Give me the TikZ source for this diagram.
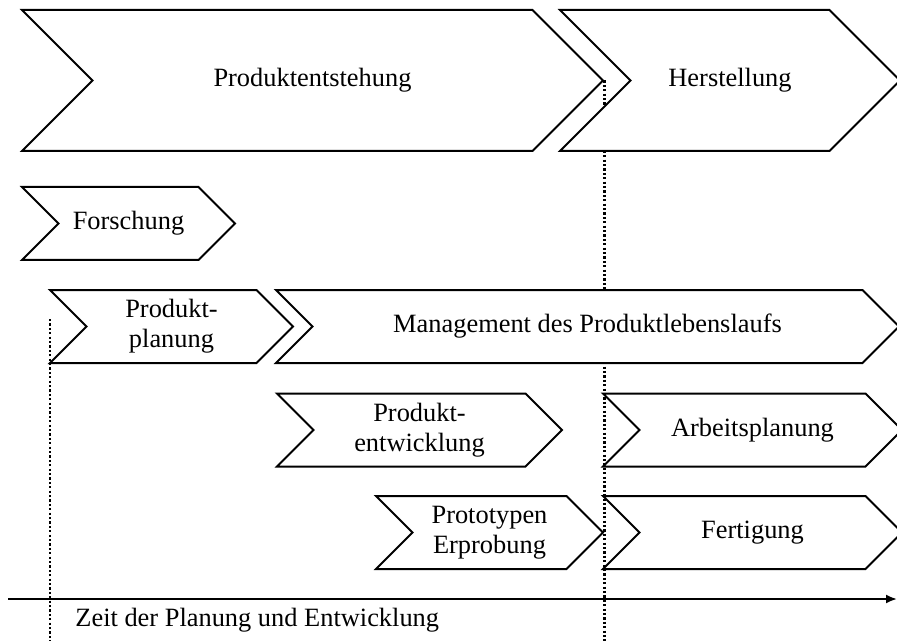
\documentclass[tikz,border=0pt]{standalone}
\usepackage{fontspec}
\setmainfont{Liberation Serif}
\usetikzlibrary{shapes.symbols,arrows.meta,backgrounds}

\begin{document}
\begin{tikzpicture}[x=0.5pt, y=-0.5pt,
  phase/.style = {signal, signal to=east, signal from=west, draw, fill=white, line width=1pt, inner sep=0pt, align=center, font=\fontsize{13.2}{15}\selectfont, minimum height=36.5pt},
  bigphase/.style = {phase, minimum height=70.5pt},
  timeline/.style = {line width=1pt, -{Latex[length=5.5pt,width=4.5pt]}},
  marker/.style = {line width=1.3pt, dash pattern=on 1.1pt off 1.1pt}]
  \useasboundingbox (0,0) rectangle (897,641);
  \node[bigphase, minimum width=290.5pt] (entstehung) at (312.5,80.5) {Produktentstehung};
  \node[bigphase, minimum width=170pt] (herstellung) at (730,80.5) {Herstellung};
  \node[phase, minimum width=106.5pt] (forschung) at (128.5,223.5) {Forschung};
  \node[phase, minimum width=121.5pt] (planung) at (171.5,326.5) {Produkt-\\planung};
  \node[phase, minimum width=311.5pt] (management) at (587.5,326.5) {Management des Produktlebenslaufs};
  \node[phase, minimum width=142.5pt] (entwicklung) at (419.5,430) {Produkt-\\entwicklung};
  \node[phase, minimum width=149.5pt] (arbeitsplanung) at (752.5,430) {Arbeitsplanung};
  \node[phase, minimum width=113.5pt] (prototypen) at (489.5,532.5) {Prototypen\\Erprobung};
  \node[phase, minimum width=149.5pt] (fertigung) at (752.5,532.5) {Fertigung};
  \coordinate (start) at (50,319);
  \coordinate (startend) at (50,641);
  \coordinate (splitend) at (entstehung.east |- startend);
  \coordinate (axstart) at (8,599);
  \coordinate (axend) at (897,599);
  \begin{scope}[on background layer]
    \draw[marker] (start) -- (startend);
    \draw[marker] (entstehung.east) -- (splitend);
  \end{scope}
  \draw[timeline] (axstart) -- (axend);
  \node[anchor=base west, inner sep=0pt, font=\fontsize{13.2}{15}\selectfont] (zeit) at (75,626) {Zeit der Planung und Entwicklung};
\end{tikzpicture}
\end{document}
